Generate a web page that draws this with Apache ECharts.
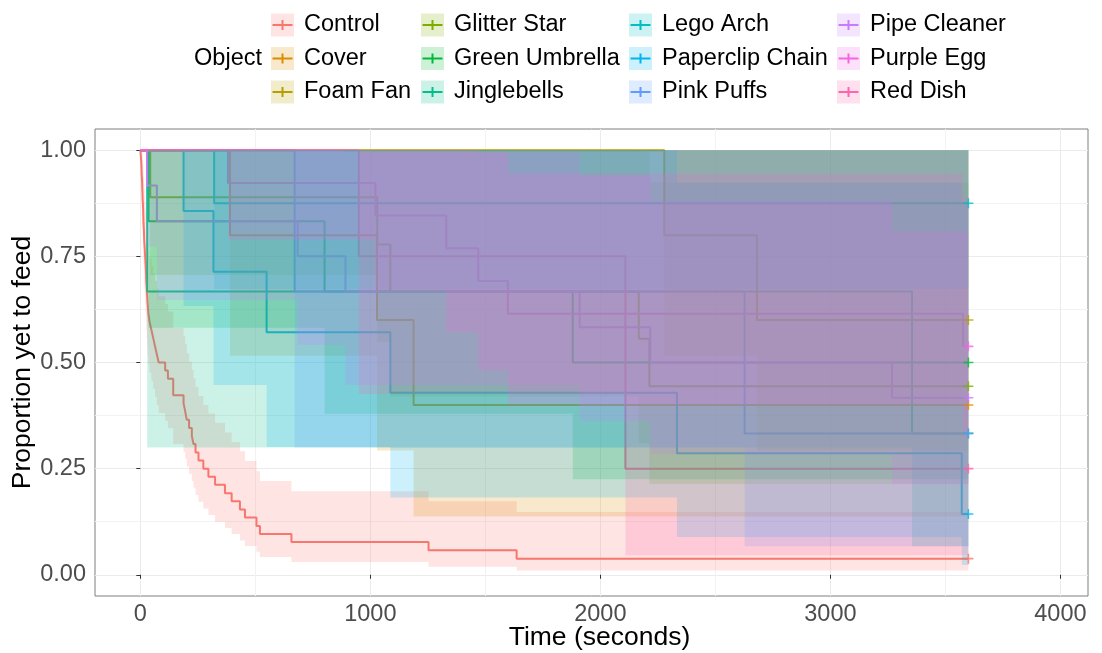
<!DOCTYPE html>
<html><head><meta charset="utf-8">
<script src="https://cdn.jsdelivr.net/npm/echarts@6/dist/echarts.min.js"></script>
<style>html,body{margin:0;padding:0;background:#fff}#c{width:1102px;height:653px}</style>
</head><body><div id="c"></div>
<script>
// ---------- data ----------
const categories = ['Control','Cover','Foam Fan','Glitter Star','Green Umbrella','Jinglebells','Lego Arch','Paperclip Chain','Pink Puffs','Pipe Cleaner','Purple Egg','Red Dish'];
const colors = ['#F8766D','#DE8C00','#B79F00','#7CAE00','#00BA38','#00C08B','#00BFC4','#00B4F0','#619CFF','#C77CFF','#F564E3','#FF64B0'];
const endTime = 3600;
const xTicks = [0,1000,2000,3000,4000];
const yTicks = [0,0.25,0.5,0.75,1];

const controlTime = [0,3,5,6,8,9,10,12,13,14,16,17,19,21,23,25,26,28,30,32,35,40,48,56,64,72,80,108,120,143,188,195,202,212,224,231,240,253,274,296,325,368,397,433,455,505,520,657,1253,1636];
const controlSurv = [1,0.981,0.962,0.942,0.923,0.904,0.885,0.865,0.846,0.827,0.808,0.788,0.769,0.750,0.731,0.712,0.692,0.673,0.654,0.635,0.615,0.596,0.577,0.558,0.538,0.519,0.500,0.481,0.462,0.423,0.404,0.385,0.365,0.346,0.327,0.308,0.288,0.269,0.250,0.231,0.212,0.192,0.173,0.154,0.135,0.115,0.096,0.077,0.058,0.038];
const controlLower = [1,0.944,0.911,0.880,0.854,0.827,0.802,0.777,0.753,0.731,0.708,0.685,0.662,0.641,0.620,0.599,0.577,0.557,0.537,0.516,0.496,0.476,0.457,0.438,0.418,0.400,0.381,0.363,0.345,0.308,0.290,0.273,0.255,0.238,0.221,0.205,0.188,0.172,0.156,0.141,0.125,0.110,0.096,0.081,0.068,0.054,0.042,0.030,0.019,0.010];
const controlUpper = [1,1,1,1,0.998,0.988,0.976,0.963,0.950,0.936,0.922,0.907,0.893,0.878,0.862,0.846,0.830,0.814,0.797,0.780,0.763,0.746,0.728,0.710,0.692,0.674,0.656,0.638,0.620,0.581,0.562,0.543,0.522,0.502,0.483,0.463,0.442,0.421,0.400,0.380,0.358,0.335,0.313,0.291,0.268,0.244,0.221,0.197,0.173,0.148];

const coverTime = [0,390,1029,1188];
const coverSurv = [1,0.8,0.6,0.4];
const coverLower = [1,0.516,0.293,0.137];
const coverUpper = [1,1,1,1];

const foamFanTime = [0,2278,2681];
const foamFanSurv = [1,0.8,0.6];
const foamFanLower = [1,0.516,0.293];
const foamFanUpper = [1,1,1];

const glitterStarTime = [0,43,1030,1087,2167,2213];
const glitterStarSurv = [1,0.889,0.778,0.667,0.556,0.444];
const glitterStarLower = [1,0.706,0.548,0.42,0.31,0.214];
const glitterStarUpper = [1,1,1,1,0.997,0.924];

const greenUmbrellaTime = [0,36,801,1880];
const greenUmbrellaSurv = [1,0.833,0.667,0.5];
const greenUmbrellaLower = [1,0.582,0.379,0.225];
const greenUmbrellaUpper = [1,1,1,1];

const jinglebellsTime = [0,30,3355];
const jinglebellsSurv = [1,0.667,0.333];
const jinglebellsLower = [1,0.3,0.067];
const jinglebellsUpper = [1,1,1];

const legoArchTime = [0,321];
const legoArchSurv = [1,0.875];
const legoArchLower = [1,0.673];
const legoArchUpper = [1,1];

const paperclipTime = [0,188,318,549,1087,2333,3571];
const paperclipSurv = [1,0.857,0.714,0.571,0.429,0.286,0.143];
const paperclipLower = [1,0.633,0.447,0.301,0.182,0.089,0.023];
const paperclipUpper = [1,1,1,1,1,0.923,0.877];

const pinkPuffsTime = [0,671,2627];
const pinkPuffsSurv = [1,0.667,0.333];
const pinkPuffsLower = [1,0.3,0.067];
const pinkPuffsUpper = [1,1,1];

const pipeCleanerTime = [0,29,72,684,892,1910,2217,3268];
const pipeCleanerSurv = [1,0.917,0.833,0.75,0.667,0.583,0.5,0.417];
const pipeCleanerLower = [1,0.773,0.647,0.541,0.447,0.362,0.284,0.213];
const pipeCleanerUpper = [1,1,1,1,0.995,0.94,0.88,0.81];

const purpleEggTime = [0,381,1022,1330,1469,1598,3577];
const purpleEggSurv = [1,0.923,0.846,0.769,0.692,0.615,0.538];
const purpleEggLower = [1,0.789,0.671,0.571,0.482,0.401,0.325];
const purpleEggUpper = [1,1,1,1,0.995,0.945,0.89];

const redDishTime = [0,950,2109];
const redDishSurv = [1,0.75,0.25];
const redDishLower = [1,0.426,0.046];
const redDishUpper = [1,1,1];

// ---------- assembly ----------
const groups = [
  [controlTime, controlSurv, controlLower, controlUpper],
  [coverTime, coverSurv, coverLower, coverUpper],
  [foamFanTime, foamFanSurv, foamFanLower, foamFanUpper],
  [glitterStarTime, glitterStarSurv, glitterStarLower, glitterStarUpper],
  [greenUmbrellaTime, greenUmbrellaSurv, greenUmbrellaLower, greenUmbrellaUpper],
  [jinglebellsTime, jinglebellsSurv, jinglebellsLower, jinglebellsUpper],
  [legoArchTime, legoArchSurv, legoArchLower, legoArchUpper],
  [paperclipTime, paperclipSurv, paperclipLower, paperclipUpper],
  [pinkPuffsTime, pinkPuffsSurv, pinkPuffsLower, pinkPuffsUpper],
  [pipeCleanerTime, pipeCleanerSurv, pipeCleanerLower, pipeCleanerUpper],
  [purpleEggTime, purpleEggSurv, purpleEggLower, purpleEggUpper],
  [redDishTime, redDishSurv, redDishLower, redDishUpper]
];

const BAND_ALPHA = 0.2;
function rgba(hex, a) {
  const n = parseInt(hex.slice(1), 16);
  return 'rgba(' + ((n >> 16) & 255) + ',' + ((n >> 8) & 255) + ',' + (n & 255) + ',' + a + ')';
}
const FONT = "'Liberation Sans', Arial, Helvetica, sans-serif";
const plusPath = 'path://M4.2,0H5.8V4.2H10V5.8H5.8V10H4.2V5.8H0V4.2H4.2Z';

const series = [];
groups.forEach((g, i) => {
  const [T, S, L, U] = g;
  const name = categories[i], color = colors[i];
  const lineData = T.map((t, k) => [t, S[k]]);
  lineData.push([endTime, S[S.length - 1]]);
  series.push({
    type: 'line', name: name, step: 'end', data: lineData, showSymbol: false,
    lineStyle: { color: color, width: 2 }, itemStyle: { color: color },
    z: 2, animation: false, silent: true
  });
  const rows = T.map((t, k) => [t, k + 1 < T.length ? T[k + 1] : endTime, L[k], U[k]]);
  series.push({
    type: 'custom', name: name + ' band', z: 3, silent: true, animation: false,
    data: rows,
    encode: { x: [0, 1], y: [2, 3] },
    renderItem: function (params, api) {
      if (params.dataIndex !== 0) return null;
      const pts = [];
      rows.forEach(r => { pts.push(api.coord([r[0], r[3]])); pts.push(api.coord([r[1], r[3]])); });
      for (let k = rows.length - 1; k >= 0; k--) {
        const r = rows[k];
        pts.push(api.coord([r[1], r[2]])); pts.push(api.coord([r[0], r[2]]));
      }
      return { type: 'polygon', shape: { points: pts }, style: { fill: rgba(color, BAND_ALPHA), stroke: null } };
    }
  });
  series.push({
    type: 'scatter', name: name + ' censor', data: [[endTime, S[S.length - 1]]],
    symbol: plusPath, symbolSize: 10, itemStyle: { color: color }, z: 4, silent: true, animation: false
  });
});

// legend drawn as graphic
const legendColX = [271, 421, 629, 837];
const legendRowY = [25, 58.5, 92];
const KEY = 23;
const graphics = [{
  type: 'text', x: 262, y: 58.5,
  style: { text: 'Object', font: '23.5px ' + FONT, fill: '#000', textAlign: 'right', textVerticalAlign: 'middle' }
}];
categories.forEach((c, i) => {
  const col = Math.floor(i / 3), row = i % 3;
  const x0 = legendColX[col], cy = legendRowY[row];
  graphics.push({ type: 'line', shape: { x1: x0 + 1.5, y1: cy, x2: x0 + KEY - 1.5, y2: cy }, style: { stroke: colors[i], lineWidth: 2 } });
  graphics.push({ type: 'line', shape: { x1: x0 + KEY / 2, y1: cy - 5, x2: x0 + KEY / 2, y2: cy + 5 }, style: { stroke: colors[i], lineWidth: 2 } });
  graphics.push({ type: 'rect', shape: { x: x0, y: cy - KEY / 2, width: KEY, height: KEY }, style: { fill: rgba(colors[i], BAND_ALPHA) } });
  graphics.push({ type: 'text', x: x0 + 33, y: cy, style: { text: c, font: '23.5px ' + FONT, fill: '#000', textVerticalAlign: 'middle' } });
});

const chart = echarts.init(document.getElementById('c'), null, { renderer: 'canvas' });
chart.setOption({
  animation: false,
  backgroundColor: '#fff',
  grid: { left: 95, top: 129, width: 993, height: 467, containLabel: false, outerBoundsMode: 'none',
    show: true, borderColor: '#7f7f7f', borderWidth: 1, backgroundColor: 'transparent' },
  xAxis: {
    type: 'value', min: -197, max: 4120, minInterval: 1000, maxInterval: 1000,
    axisLine: { show: false },
    axisTick: { show: true, length: 4, lineStyle: { color: '#333', width: 1 }, customValues: xTicks },
    axisLabel: { fontSize: 23.5, color: '#4D4D4D', fontFamily: FONT, margin: 7, customValues: xTicks,
      formatter: v => String(v) },
    splitLine: { show: true, lineStyle: { color: '#EBEBEB', width: 1 } },
    minorTick: { show: false, splitNumber: 2 },
    minorSplitLine: { show: true, lineStyle: { color: '#F2F2F2', width: 1 } },
    name: 'Time (seconds)', nameLocation: 'middle', nameGap: 28, nameMoveOverlap: false,
    nameTextStyle: { fontSize: 26.5, color: '#000', fontFamily: FONT, verticalAlign: 'top', padding: [0, 0, 0, 16] }
  },
  yAxis: {
    type: 'value', min: -0.05, max: 1.05, minInterval: 0.25, maxInterval: 0.25,
    axisLine: { show: false },
    axisTick: { show: true, length: 4, lineStyle: { color: '#333', width: 1 }, customValues: yTicks },
    axisLabel: { fontSize: 23.5, color: '#4D4D4D', fontFamily: FONT, margin: 9, customValues: yTicks,
      formatter: v => Number(v).toFixed(2) },
    splitLine: { show: true, lineStyle: { color: '#EBEBEB', width: 1 } },
    minorTick: { show: false, splitNumber: 2 },
    minorSplitLine: { show: true, lineStyle: { color: '#F2F2F2', width: 1 } },
    name: 'Proportion yet to feed', nameLocation: 'middle', nameGap: 59, nameMoveOverlap: false,
    nameTextStyle: { fontSize: 26.5, color: '#000', fontFamily: FONT }
  },
  graphic: graphics,
  series: series
});
</script>
</body></html>
